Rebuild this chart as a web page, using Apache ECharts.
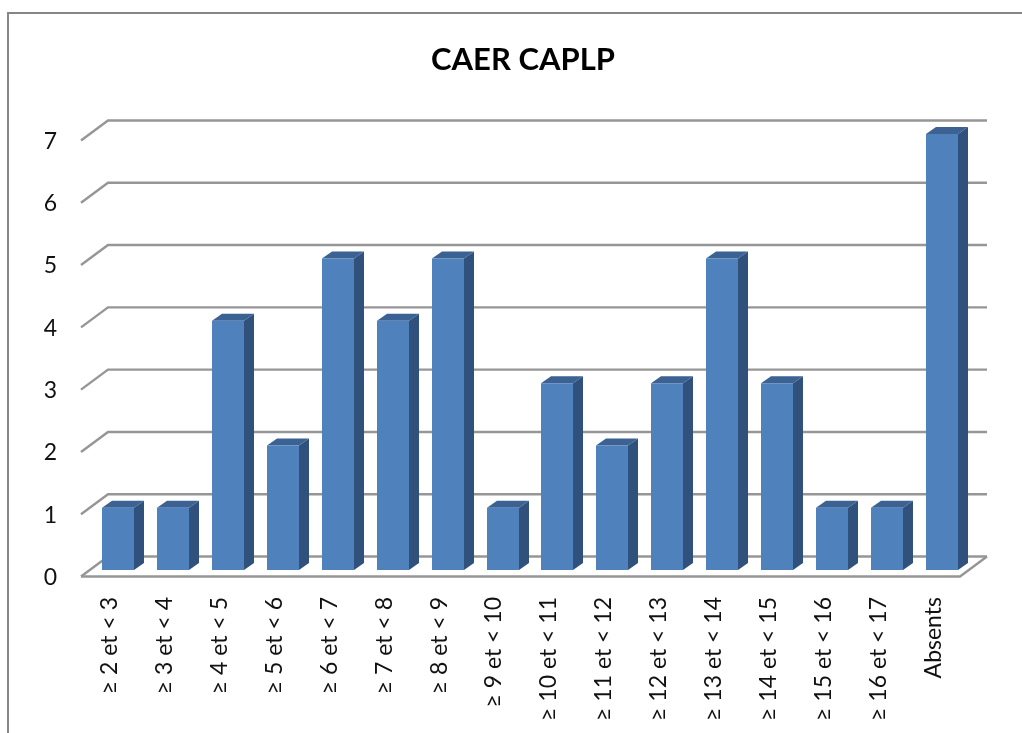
<!DOCTYPE html>
<html>
<head>
<meta charset="utf-8">
<title>CAER CAPLP</title>
<script src="https://cdn.jsdelivr.net/npm/echarts@6/dist/echarts.min.js"></script>
<style>
  html, body { margin: 0; padding: 0; background: #fff; overflow: hidden; }
  #chart { width: 1022px; height: 733px; }
</style>
</head>
<body>
<div id="chart"></div>
<script>
var categories = ['≥ 2 et < 3', '≥ 3 et < 4', '≥ 4 et < 5', '≥ 5 et < 6', '≥ 6 et < 7', '≥ 7 et < 8', '≥ 8 et < 9', '≥ 9 et < 10',
  '≥ 10 et < 11', '≥ 11 et < 12', '≥ 12 et < 13', '≥ 13 et < 14', '≥ 14 et < 15', '≥ 15 et < 16', '≥ 16 et < 17', 'Absents']
var values = [1, 1, 4, 2, 5, 4, 5, 1, 3, 2, 3, 5, 3, 1, 1, 7]
var ticks = [0, 1, 2, 3, 4, 5, 6, 7]

var font = 'Lato, "Noto Sans", sans-serif'
var gridColor = '#969696'

// the grid is the plane the bars stand on, walls are drawn with offsets from it
var front = {x: -9, y: 6.5}
var back = {x: 18, y: -13.5}

function renderGrid (params, api) {
  var p = api.coord([0, api.value(0)])
  var cs = params.coordSys
  var right = cs.x + cs.width
  var style = {stroke: gridColor, lineWidth: 2.4, fill: null}
  var points = [
    [cs.x + front.x, p[1] + front.y],
    [cs.x + back.x, p[1] + back.y],
    [right + back.x, p[1] + back.y]
  ]
  var children = [{type: 'polyline', shape: {points: points}, style: style}]
  if (api.value(0) === 0) {
    children.push({
      type: 'polyline',
      shape: {points: [
        [cs.x + front.x, p[1] + front.y],
        [right + front.x, p[1] + front.y],
        [right + back.x, p[1] + back.y]
      ]},
      style: style
    })
  }
  return {type: 'group', children: children}
}

function renderBar (params, api) {
  var top = api.coord([api.value(0), api.value(1)])
  var base = api.coord([api.value(0), 0])
  var w = 32
  var dx = 10
  var dy = 7
  var l = Math.ceil(top[0] - w / 2)
  var r = l + w
  return {
    type: 'group',
    children: [
      {
        type: 'polygon',
        shape: {points: [[r, top[1]], [r + dx, top[1] - dy], [r + dx, base[1] - dy], [r, base[1]]]},
        style: {fill: '#30517c'}
      },
      {
        type: 'polygon',
        shape: {points: [[l, top[1]], [l + dx, top[1] - dy], [r + dx, top[1] - dy], [r, top[1]]]},
        style: {fill: '#3b6292'}
      },
      {
        type: 'rect',
        shape: {x: l, y: top[1], width: w, height: base[1] - top[1]},
        style: {fill: '#4f81bd'}
      }
    ]
  }
}

var chart = echarts.init(document.getElementById('chart'))
chart.setOption({
  animation: false,
  backgroundColor: '#fff',
  title: {
    text: 'CAER CAPLP',
    left: 518,
    top: 39,
    textAlign: 'center',
    textStyle: {fontFamily: font, fontSize: 31, fontWeight: 'bold', color: '#000'}
  },
  grid: {left: 90, width: 879, top: 134, height: 436},
  xAxis: {
    type: 'category',
    data: categories,
    axisLine: {show: false},
    axisTick: {show: false},
    axisLabel: {
      interval: 0,
      rotate: 90,
      margin: 27,
      verticalAlign: 'bottom',
      lineHeight: 16,
      fontFamily: font,
      fontSize: 23,
      color: '#111'
    }
  },
  yAxis: {
    type: 'value',
    min: 0,
    max: 7,
    interval: 1,
    axisLine: {show: false},
    axisTick: {show: false},
    splitLine: {show: false},
    axisLabel: {
      margin: 33,
      verticalAlign: 'top',
      lineHeight: 15,
      fontFamily: font,
      fontSize: 23,
      color: '#111'
    }
  },
  graphic: [{
    type: 'polyline',
    shape: {points: [[8, 733], [8, 13], [1022, 13]]},
    style: {stroke: '#868686', lineWidth: 2, fill: null}
  }],
  series: [
    {
      type: 'custom',
      coordinateSystem: 'cartesian2d',
      renderItem: renderGrid,
      encode: {y: 0},
      data: ticks.map(function (t) { return [t] }),
      z: 1,
      silent: true
    },
    {
      type: 'custom',
      coordinateSystem: 'cartesian2d',
      renderItem: renderBar,
      encode: {x: 0, y: 1},
      data: values.map(function (v, i) { return [i, v] }),
      z: 2
    }
  ]
})
</script>
</body>
</html>
